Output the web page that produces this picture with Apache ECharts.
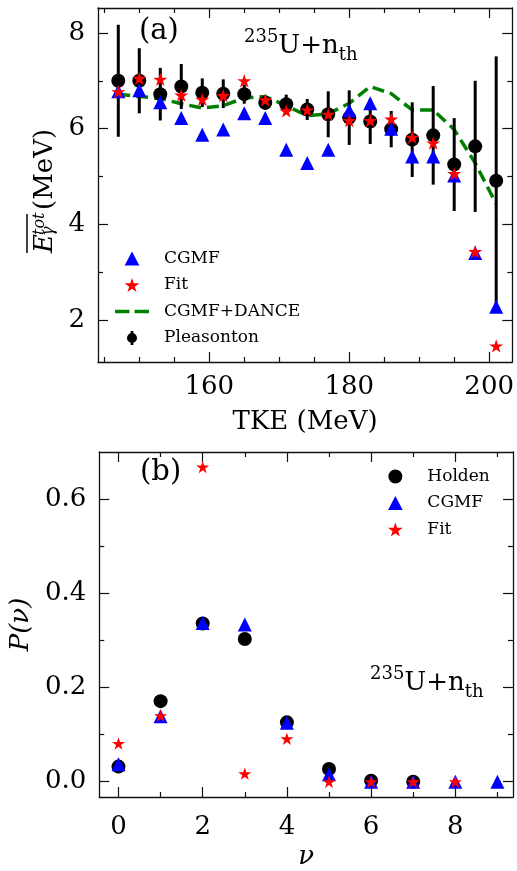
<!DOCTYPE html>
<html>
<head>
<meta charset="utf-8">
<title>U235 gamma</title>
<script src="https://cdn.jsdelivr.net/npm/echarts/dist/echarts.min.js"></script>
<style>
  body { margin: 0; background: #fff; }
  #chart { width: 517px; height: 871px; }
</style>
</head>
<body>
<div id="chart"></div>
<script>
// panel (a): TKE scan
var tke = [147, 150, 153, 156, 159, 162, 165, 168, 171, 174, 177, 180, 183, 186, 189, 192, 195, 198, 201];
var pleasonton = [7.00, 7.00, 6.72, 6.88, 6.75, 6.73, 6.72, 6.54, 6.51, 6.40, 6.30, 6.23, 6.15, 5.99, 5.77, 5.86, 5.25, 5.63, 4.91];
var pleasontonErr = [1.17, 0.68, 0.55, 0.47, 0.30, 0.30, 0.20, 0.15, 0.20, 0.22, 0.48, 0.57, 0.47, 0.38, 0.78, 1.03, 0.97, 1.37, 2.60];
var cgmfA = [6.78, 6.80, 6.55, 6.22, 5.87, 5.98, 6.32, 6.22, 5.56, 5.28, 5.56, 6.38, 6.53, 6.00, 5.42, 5.42, 5.02, 3.40, 2.28];
var fitA = [6.77, 7.05, 7.03, 6.70, 6.61, 6.69, 7.00, 6.60, 6.37, 6.39, 6.30, 6.17, 6.17, 6.20, 5.82, 5.70, 5.06, 3.43, 1.46];
var dance = [6.72, 6.67, 6.63, 6.52, 6.43, 6.48, 6.64, 6.67, 6.48, 6.27, 6.31, 6.53, 6.88, 6.73, 6.39, 6.39, 5.98, 5.28, 4.43];

// panel (b): P(nu)
var nu = [0, 1, 2, 3, 4, 5, 6, 7, 8, 9];
var holden = [0.032, 0.171, 0.336, 0.303, 0.126, 0.027, 0.002, 0.000];
var cgmfB = [0.037, 0.139, 0.337, 0.334, 0.125, 0.016, 0.000, 0.000, 0.000, 0.000];
var fitB = [0.081, 0.140, 0.668, 0.017, 0.091, 0.000, 0.000, 0.000, 0.000];

// ticks
var aXMajor = [160, 180, 200], aXMinor = [145, 150, 155, 165, 170, 175, 185, 190, 195];
var aYMajor = [2, 4, 6, 8], aYMinor = [3, 5, 7];
var bXMajor = [0, 2, 4, 6, 8], bXMinor = [1, 3, 5, 7, 9];
var bYMajor = [0, 0.2, 0.4, 0.6], bYMinor = [0.1, 0.3, 0.5];

var FONT = 'DejaVu Serif';
var STAR = 'path://M100,0 L122.5,69.1 L195.1,69.1 L136.3,111.8 L158.8,180.9 L100,138.2 L41.2,180.9 L63.7,111.8 L4.9,69.1 L77.5,69.1 Z';
var TRI = 'path://M50,0 L100,95 L0,95 Z';
var ERRDOT = 'path://M40,0 L60,0 L60,100 L40,100 Z M50,14 A36,36 0 1 1 49.9,14 Z';
var DASHES = 'path://M0,0 L14,0 L14,3.5 L0,3.5 Z M19,0 L33,0 L33,3.5 L19,3.5 Z';

var spine = { color: '#111', width: 1.3 };
var tickStyle = { color: '#111', width: 1.2 };

function zip(xs, ys) {
  return ys.map(function (v, i) { return [xs[i], v]; });
}

// 4 axes per grid and dimension: main, minor, mirror main, mirror minor
function makeAxes(dim, g, min, max, major, minor, fmt, labelMargin, nameOpt) {
  var p1 = dim === 'x' ? 'bottom' : 'left';
  var p2 = dim === 'x' ? 'top' : 'right';
  var base = { gridIndex: g, type: 'value', min: min, max: max, splitLine: { show: false } };
  var main = Object.assign({}, base, {
    position: p1,
    axisLine: { show: true, onZero: false, lineStyle: spine },
    axisTick: { show: true, inside: true, length: 10, customValues: major, lineStyle: tickStyle },
    axisLabel: { customValues: major, formatter: fmt, margin: labelMargin, color: '#000', fontFamily: FONT, fontSize: 26 }
  }, nameOpt || {});
  function tickOnly(pos, vals, len, line) {
    return Object.assign({}, base, {
      position: pos,
      axisLine: { show: line, onZero: false, lineStyle: spine },
      axisTick: { show: true, inside: true, length: len, customValues: vals, lineStyle: tickStyle },
      axisLabel: { show: false }
    });
  }
  return [main, tickOnly(p1, minor, 5, false), tickOnly(p2, major, 10, true), tickOnly(p2, minor, 5, false)];
}

var xAxes = makeAxes('x', 0, 144.1, 203.3, aXMajor, aXMinor, function (v) { return String(v); }, 12, {
  name: 'TKE (MeV)', nameLocation: 'middle', nameGap: 47,
  nameTextStyle: { fontFamily: FONT, fontSize: 26, color: '#000' }
}).concat(makeAxes('x', 1, -0.457, 9.37, bXMajor, bXMinor, function (v) { return String(v); }, 17, {
  name: 'ν', nameLocation: 'middle', nameGap: 47,
  nameTextStyle: { fontFamily: FONT, fontSize: 26, fontStyle: 'italic', color: '#000' }
}));

var yAxes = makeAxes('y', 0, 1.125, 8.52, aYMajor, aYMinor, function (v) { return String(v); }, 13)
  .concat(makeAxes('y', 1, -0.0325, 0.70, bYMajor, bYMinor, function (v) { return v.toFixed(1); }, 13, {
    name: 'P(ν)', nameLocation: 'middle', nameGap: 62, nameRotate: 90,
    nameTextStyle: { fontFamily: FONT, fontSize: 26, fontStyle: 'italic', color: '#000' }
  }));

var legendText = { fontFamily: FONT, fontSize: 17, color: '#000', padding: [0, 0, 0, 10] };

var supRich = {
  sup: { fontFamily: FONT, fontSize: 18, lineHeight: 20, verticalAlign: 'top' },
  m: { fontFamily: FONT, fontSize: 26, lineHeight: 36, verticalAlign: 'middle' },
  sub: { fontFamily: FONT, fontSize: 18, lineHeight: 20, verticalAlign: 'bottom' }
};

var option = {
  animation: false,
  backgroundColor: '#fff',
  grid: [
    { left: 98, top: 8, width: 415, height: 354 },
    { left: 98, top: 452, width: 415, height: 354 }
  ],
  xAxis: xAxes,
  yAxis: yAxes,
  legend: [
    {
      orient: 'vertical', left: 115, top: 250, padding: 0, itemWidth: 34, itemHeight: 14, itemGap: 9.5,
      symbolKeepAspect: true, textStyle: legendText,
      data: [
        { name: 'CGMF', icon: TRI },
        { name: 'Fit', icon: STAR },
        { name: 'CGMF+DANCE', icon: DASHES, itemStyle: { color: '#008000' } },
        { name: 'Pleasonton', icon: ERRDOT }
      ]
    },
    {
      orient: 'vertical', left: 388, top: 468, padding: 0, itemWidth: 34, itemHeight: 14, itemGap: 9.5,
      symbolKeepAspect: true, textStyle: legendText,
      data: [
        { name: 'Holden', icon: 'circle' },
        { name: 'CGMF', icon: TRI },
        { name: 'Fit', icon: STAR }
      ]
    }
  ],
  series: [
    {
      name: 'CGMF+DANCE', type: 'line', xAxisIndex: 0, yAxisIndex: 0, z: 2,
      data: zip(tke, dance), symbol: 'none',
      lineStyle: { color: '#008000', width: 3.5, type: [12, 6] },
      itemStyle: { color: '#008000' }
    },
    {
      type: 'custom', xAxisIndex: 0, yAxisIndex: 0, z: 3,
      data: tke.map(function (x, i) { return [x, pleasonton[i] - pleasontonErr[i], pleasonton[i] + pleasontonErr[i]]; }),
      encode: { x: 0, y: [1, 2] },
      renderItem: function (params, api) {
        var lo = api.coord([api.value(0), api.value(1)]);
        var hi = api.coord([api.value(0), api.value(2)]);
        return { type: 'line', shape: { x1: lo[0], y1: lo[1], x2: hi[0], y2: hi[1] }, style: { stroke: '#000', lineWidth: 3 } };
      }
    },
    {
      name: 'Pleasonton', type: 'scatter', xAxisIndex: 0, yAxisIndex: 0, z: 4,
      data: zip(tke, pleasonton), symbol: 'circle', symbolSize: 14,
      itemStyle: { color: '#000', opacity: 1 }
    },
    {
      name: 'CGMF', type: 'scatter', xAxisIndex: 0, yAxisIndex: 0, z: 5,
      data: zip(tke, cgmfA), symbol: 'triangle', symbolSize: 14,
      itemStyle: { color: '#0000ff', opacity: 1 }
    },
    {
      name: 'Fit', type: 'scatter', xAxisIndex: 0, yAxisIndex: 0, z: 6,
      data: zip(tke, fitA), symbol: STAR, symbolSize: 14, symbolKeepAspect: true,
      itemStyle: { color: '#ff0000', opacity: 1 }
    },
    {
      name: 'Holden', type: 'scatter', xAxisIndex: 4, yAxisIndex: 4, z: 4,
      data: zip(nu, holden), symbol: 'circle', symbolSize: 14,
      itemStyle: { color: '#000', opacity: 1 }
    },
    {
      name: 'CGMF', type: 'scatter', xAxisIndex: 4, yAxisIndex: 4, z: 5,
      data: zip(nu, cgmfB), symbol: 'triangle', symbolSize: 14,
      itemStyle: { color: '#0000ff', opacity: 1 }
    },
    {
      name: 'Fit', type: 'scatter', xAxisIndex: 4, yAxisIndex: 4, z: 6,
      data: zip(nu, fitB), symbol: STAR, symbolSize: 13, symbolKeepAspect: true,
      itemStyle: { color: '#ff0000', opacity: 1 }
    }
  ],
  graphic: [
    { type: 'text', left: 139, top: 17, style: { text: '(a)', font: '29px "DejaVu Serif"', fill: '#000' } },
    { type: 'text', left: 140, top: 458, style: { text: '(b)', font: '29px "DejaVu Serif"', fill: '#000' } },
    { type: 'text', x: 244, y: 28, style: { text: '{sup|235}{m|U+n}{sub|th}', verticalAlign: 'top', fill: '#000', rich: supRich } },
    { type: 'text', x: 370, y: 665, style: { text: '{sup|235}{m|U+n}{sub|th}', verticalAlign: 'top', fill: '#000', rich: supRich } },
    // y label of panel (a): overline E_gamma^tot (MeV), rotated
    {
      type: 'group', x: 53, y: 253, rotation: Math.PI / 2,
      children: [
        { type: 'text', x: 0, y: -8, style: { text: 'E', font: 'italic 26px "DejaVu Serif"', fill: '#000', verticalAlign: 'middle' } },
        { type: 'text', x: 18, y: -13, style: { text: 'tot', font: 'italic 16px "DejaVu Serif"', fill: '#000', verticalAlign: 'middle' } },
        { type: 'text', x: 17, y: -4, style: { text: 'γ', font: 'italic 16px "DejaVu Serif"', fill: '#000', verticalAlign: 'middle' } },
        { type: 'line', shape: { x1: 0, y1: -26, x2: 39, y2: -26 }, style: { stroke: '#000', lineWidth: 1.5 } },
        { type: 'text', x: 43, y: -8, style: { text: '(MeV)', font: '26px "DejaVu Serif"', fill: '#000', verticalAlign: 'middle' } }
      ]
    }
  ]
};

var myChart = echarts.init(document.getElementById('chart'));
myChart.setOption(option);
</script>
</body>
</html>
